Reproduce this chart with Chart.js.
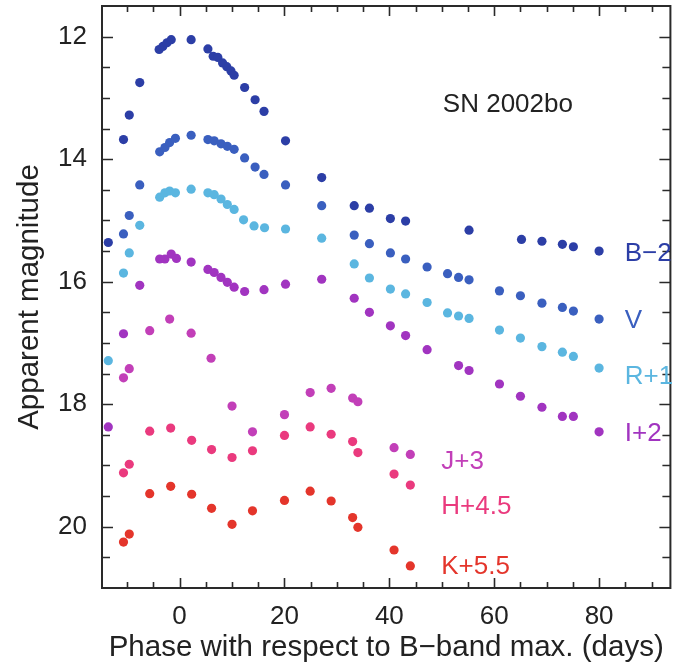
<!DOCTYPE html>
<html>
<head>
<meta charset="utf-8">
<script src="https://cdn.jsdelivr.net/npm/chart.js@4/dist/chart.umd.min.js"></script>
<style>
  html, body { margin: 0; padding: 0; background: #fff; }
  #wrap { width: 675px; height: 666px; }
</style>
</head>
<body>
<div id="wrap"><canvas id="c" width="675" height="666"></canvas></div>
<script>
// ---- data (phase in days, apparent magnitude) ----
const phaseB = [-13.6, -10.7, -9.6, -7.6, -3.9, -3.2, -2.4, -1.6, 2.2, 5.4, 6.4, 7.3, 8.2, 9.0, 9.8, 10.4, 12.4, 14.4, 16.1, 20.2, 27.1, 33.3, 36.2, 40.2, 43.1, 55.2, 65.2, 69.1, 73.0, 75.1, 80.0];
const magB   = [15.36, 13.68, 13.28, 12.75, 12.21, 12.16, 12.10, 12.05, 12.05, 12.20, 12.32, 12.34, 12.43, 12.49, 12.56, 12.63, 12.83, 13.03, 13.22, 13.70, 14.30, 14.76, 14.80, 14.97, 15.01, 15.16, 15.31, 15.34, 15.39, 15.43, 15.50];

const phaseV = [-10.7, -9.6, -7.6, -3.8, -2.8, -1.9, -0.8, 2.2, 5.4, 6.6, 7.9, 9.1, 10.4, 12.4, 14.4, 16.1, 20.2, 27.1, 33.3, 36.2, 40.2, 43.1, 47.2, 51.1, 53.2, 55.2, 61.0, 65.0, 69.1, 73.0, 75.1, 80.0];
const magV   = [15.22, 14.92, 14.42, 13.88, 13.81, 13.73, 13.66, 13.61, 13.68, 13.70, 13.75, 13.79, 13.84, 13.98, 14.13, 14.25, 14.42, 14.76, 15.24, 15.38, 15.53, 15.63, 15.76, 15.87, 15.93, 15.97, 16.15, 16.23, 16.35, 16.42, 16.48, 16.61];

const phaseR = [-13.6, -10.7, -9.6, -7.6, -3.8, -2.8, -1.9, -0.8, 2.2, 5.4, 6.6, 7.9, 9.1, 10.4, 12.2, 14.2, 16.2, 20.2, 27.1, 33.3, 36.2, 40.2, 43.1, 47.2, 51.1, 53.2, 55.2, 61.0, 65.0, 69.1, 73.0, 75.1, 80.0];
const magR   = [17.29, 15.86, 15.53, 15.08, 14.62, 14.55, 14.52, 14.55, 14.49, 14.55, 14.58, 14.65, 14.74, 14.82, 14.99, 15.09, 15.12, 15.14, 15.29, 15.71, 15.94, 16.12, 16.20, 16.34, 16.51, 16.56, 16.60, 16.79, 16.92, 17.06, 17.15, 17.22, 17.41];

const phaseI = [-13.6, -10.7, -7.6, -3.8, -2.8, -1.6, -0.6, 2.2, 5.4, 6.6, 7.9, 9.1, 10.4, 12.4, 16.1, 20.2, 27.1, 33.3, 36.2, 40.2, 43.1, 47.2, 53.2, 55.2, 61.0, 65.0, 69.1, 73.0, 75.1, 80.0];
const magI   = [18.37, 16.85, 16.06, 15.63, 15.63, 15.55, 15.62, 15.68, 15.80, 15.85, 15.93, 16.01, 16.09, 16.16, 16.13, 16.04, 15.96, 16.27, 16.50, 16.72, 16.88, 17.11, 17.37, 17.45, 17.67, 17.87, 18.05, 18.20, 18.20, 18.45];

const phaseJ = [-10.7, -9.6, -5.7, -1.9, 2.2, 6.0, 10.0, 13.9, 20.0, 24.9, 28.9, 33.0, 34.0, 40.9, 44.0];
const magJ   = [17.57, 17.42, 16.80, 16.61, 16.84, 17.25, 18.03, 18.45, 18.17, 17.81, 17.74, 17.90, 17.96, 18.71, 18.82];

const phaseH = [-10.7, -9.6, -5.7, -1.7, 2.3, 6.1, 10.0, 13.9, 20.0, 24.9, 28.9, 33.0, 34.0, 40.9, 44.0];
const magH   = [19.12, 18.98, 18.44, 18.39, 18.59, 18.74, 18.87, 18.76, 18.51, 18.37, 18.49, 18.61, 18.79, 19.14, 19.32];

const phaseK = [-10.7, -9.6, -5.7, -1.7, 2.3, 6.1, 10.0, 13.9, 20.0, 24.9, 28.9, 33.0, 34.0, 40.9, 44.0];
const magK   = [20.25, 20.12, 19.46, 19.34, 19.47, 19.70, 19.96, 19.74, 19.57, 19.42, 19.58, 19.85, 20.01, 20.38, 20.64];

const bandNames = ['B\u22122', 'V', 'R+1', 'I+2', 'J+3', 'H+4.5', 'K+5.5'];
const xTicks = [0, 20, 40, 60, 80];
const yTicks = [12, 14, 16, 18, 20];

// ---- styling / layout ----
const FONT = '"Liberation Sans", Arial, Helvetica, sans-serif';
const TEXT = '#222222';
const colors = ['#2c3ea6', '#3a5fbf', '#5bb6e0', '#a134c0', '#c23fb8', '#ea3a7e', '#e4352b'];
const series = [[phaseB, magB], [phaseV, magV], [phaseR, magR], [phaseI, magI], [phaseJ, magJ], [phaseH, magH], [phaseK, magK]];
// annotation anchors in data coordinates (label placement)
const labelAnchor = [[84.9, 15.55], [84.9, 16.64], [84.9, 17.56], [84.9, 18.48], [49.9, 18.94], [49.9, 19.67], [49.9, 20.65]];
const titleAnchor = [50.2, 13.11];

const datasets = series.map((s, i) => ({
  label: bandNames[i],
  data: s[0].map((x, k) => ({ x: x, y: s[1][k] })),
  backgroundColor: colors[i],
  borderWidth: 0,
  pointRadius: 4.6,
  pointHoverRadius: 4.6
}));

const framePlugin = {
  id: 'frame',
  afterDraw(chart) {
    const ctx = chart.ctx;
    const xs = chart.scales.x, ys = chart.scales.y;
    const { left, right, top, bottom } = chart.chartArea;
    ctx.save();
    ctx.strokeStyle = '#2a2a2a';
    ctx.lineWidth = 2;
    ctx.strokeRect(left, top, right - left, bottom - top);
    ctx.lineWidth = 1.6;
    ctx.beginPath();
    for (let v = -10; v <= 90; v += 5) {
      const px = Math.round(xs.getPixelForValue(v)) + 0.5;
      const len = xTicks.includes(v) ? 10 : 6;
      ctx.moveTo(px, bottom); ctx.lineTo(px, bottom - len);
      ctx.moveTo(px, top); ctx.lineTo(px, top + len);
    }
    for (let v = 12; v <= 20.51; v += 0.5) {
      const py = Math.round(ys.getPixelForValue(v)) + 0.5;
      const len = yTicks.includes(v) ? 11 : 8;
      ctx.moveTo(left, py); ctx.lineTo(left + len, py);
      ctx.moveTo(right, py); ctx.lineTo(right - len, py);
    }
    ctx.stroke();

    ctx.textBaseline = 'middle';
    ctx.textAlign = 'left';
    ctx.font = '26px ' + FONT;
    bandNames.forEach((t, i) => {
      ctx.fillStyle = colors[i];
      ctx.fillText(t, xs.getPixelForValue(labelAnchor[i][0]), ys.getPixelForValue(labelAnchor[i][1]));
    });
    ctx.fillStyle = TEXT;
    ctx.font = '26px ' + FONT;
    ctx.fillText('SN 2002bo', xs.getPixelForValue(titleAnchor[0]), ys.getPixelForValue(titleAnchor[1]));
    ctx.restore();
  }
};

new Chart(document.getElementById('c'), {
  type: 'scatter',
  data: { datasets },
  options: {
    responsive: false,
    animation: false,
    devicePixelRatio: 1,
    layout: { padding: { top: 6, right: 1, left: 0, bottom: 0 } },
    plugins: { legend: { display: false }, tooltip: { enabled: false } },
    scales: {
      x: {
        type: 'linear',
        min: -14.8,
        max: 93.6,
        afterFit(scale) { scale.height = 78; scale.paddingLeft = 0; scale.paddingRight = 0; scale.paddingTop = 0; scale.paddingBottom = 0; },
        grid: { display: false, drawTicks: false },
        border: { display: false },
        ticks: {
          stepSize: 20,
          includeBounds: false,
          color: TEXT,
          font: { family: FONT, size: 26 },
          padding: 13,
          maxRotation: 0
        },
        title: {
          display: true,
          text: 'Phase with respect to B\u2212band max. (days)',
          color: TEXT,
          font: { family: FONT, size: 29.5, lineHeight: 1.2 },
          padding: { top: 0, bottom: 0 }
        }
      },
      y: {
        type: 'linear',
        reverse: true,
        min: 11.5,
        max: 21,
        afterFit(scale) { scale.width = 102; scale.paddingTop = 0; scale.paddingBottom = 0; scale.paddingLeft = 0; scale.paddingRight = 0; },
        grid: { display: false, drawTicks: false },
        border: { display: false },
        ticks: {
          stepSize: 2,
          includeBounds: false,
          color: TEXT,
          font: { family: FONT, size: 26 },
          padding: 15
        },
        title: {
          display: true,
          text: 'Apparent magnitude',
          color: TEXT,
          font: { family: FONT, size: 29.5, lineHeight: 1.2 },
          padding: { top: 12, bottom: 0 }
        }
      }
    }
  },
  plugins: [framePlugin]
});
</script>
</body>
</html>
